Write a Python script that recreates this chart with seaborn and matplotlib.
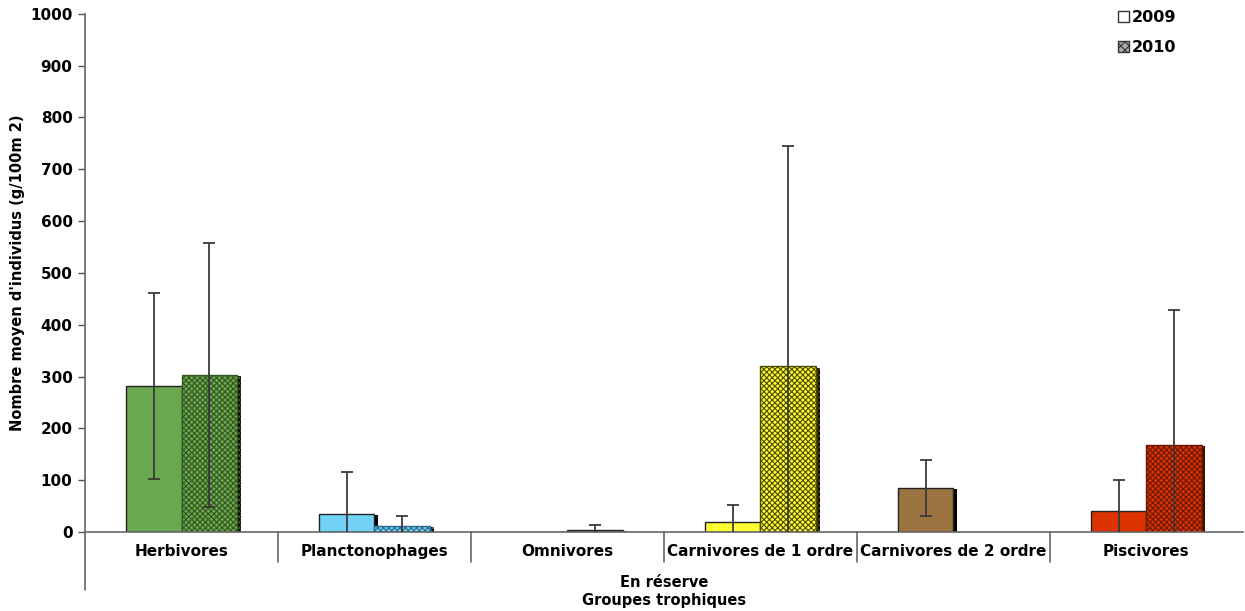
import matplotlib
matplotlib.use("Agg")
import matplotlib.pyplot as plt
import matplotlib.patheffects as pe
from matplotlib.patches import Patch
from matplotlib.lines import Line2D
import matplotlib.transforms as mtransforms
import numpy as np
import pandas as pd
import seaborn as sns

# Trophic groups and yearly means / standard deviations
categories = ["Herbivores", "Planctonophages", "Omnivores",
              "Carnivores de 1 ordre", "Carnivores de 2 ordre", "Piscivores"]
years = ["2009", "2010"]
mean_2009 = [282, 35, 0, 20, 85, 41]
mean_2010 = [303, 12, 4, 320, 0, 168]
sd_2009 = [180, 81, 0, 32, 54, 60]
sd_2010 = [255, 19, 9, 425, 0, 260]
group_colors = ["#6aa84f", "#72d2f8", "#ffffff", "#ffff33", "#9c7442", "#dd3300"]
dark_colors = ["#33561f", "#2a6a88", "#222222", "#4e4a00", "#4a3415", "#6a1800"]

df = pd.DataFrame({
    "groupe": categories * 2,
    "annee": [years[0]] * len(categories) + [years[1]] * len(categories),
    "valeur": mean_2009 + mean_2010,
})

sns.set_theme(style="white")
plt.rcParams["font.family"] = ["DejaVu Sans"]
plt.rcParams["hatch.linewidth"] = 0.8
plt.rcParams["text.color"] = "black"
plt.rcParams["axes.labelcolor"] = "black"
plt.rcParams["xtick.color"] = "black"
plt.rcParams["ytick.color"] = "black"

fig = plt.figure(figsize=(12.45, 6.11), dpi=100)
ax = fig.add_axes([0.0683, 0.1293, 0.930, 0.848])

sns.barplot(data=df, x="groupe", y="valeur", hue="annee", order=categories,
            hue_order=years, errorbar=None, width=0.575, dodge=True,
            palette=["#ffffff", "#ffffff"], edgecolor="#222222", linewidth=1.0,
            legend=False, ax=ax)

shadow = [pe.SimplePatchShadow(offset=(2.6, -1.0), shadow_rgbFace="black", alpha=1.0),
          pe.Normal()]

for yi, (cont, means, sds) in enumerate(zip(ax.containers, [mean_2009, mean_2010],
                                             [sd_2009, sd_2010])):
    for i, bar in enumerate(cont.patches):
        bar.set_facecolor(group_colors[i])
        if yi == 1:
            bar.set_hatch("xxxxxx")
            bar.set_edgecolor(dark_colors[i])
        bar.set_path_effects(shadow)
        xc = bar.get_x() + bar.get_width() / 2
        m, s = means[i], sds[i]
        if s > 0:
            lo = min(s, m)
            _, caps, _ = ax.errorbar(xc, m, yerr=[[lo], [s]], fmt="none",
                                     ecolor="#3a3a3a", elinewidth=1.3, capsize=4,
                                     capthick=1.3, zorder=5)
            if m - s <= 0:
                # the lower whisker is cut by the baseline: no cap there
                caps[0].set_visible(False)

ax.set_ylim(0, 1000)
ax.set_xlim(-0.5, len(categories) - 0.5)
ax.set_yticks(np.arange(0, 1001, 100))
ax.tick_params(axis="y", direction="out", length=5, width=1, color="#555555",
               labelsize=11, pad=4, left=True)
ax.tick_params(axis="x", length=0, labelsize=11, pad=9)
for lab in ax.get_yticklabels() + ax.get_xticklabels():
    lab.set_fontweight("bold")

for side in ["top", "right"]:
    ax.spines[side].set_visible(False)
for side in ["left", "bottom"]:
    ax.spines[side].set_color("#666666")
    ax.spines[side].set_linewidth(1.2)

# extension of the value axis and category separators below the baseline
trans = mtransforms.blended_transform_factory(ax.transData, ax.transAxes)
ax.add_line(Line2D([0, 0], [0, -0.112], transform=ax.transAxes, color="#666666",
                   lw=1.2, clip_on=False))
for xb in np.arange(0.5, len(categories) - 0.5, 1):
    ax.add_line(Line2D([xb, xb], [0, -0.058], transform=trans, color="#666666",
                       lw=1.2, clip_on=False))

ax.set_ylabel("Nombre moyen d'individus (g/100m 2)", fontsize=10.5,
              fontweight="bold", labelpad=4)
ax.set_xlabel("En réserve\nGroupes trophiques", fontsize=10.5, fontweight="bold",
              labelpad=11, linespacing=1.25)

handles = [Patch(facecolor="white", edgecolor="#333333", linewidth=1.0),
           Patch(facecolor="#aaaaaa", edgecolor="#333333", hatch="xxxx", linewidth=1.0)]
leg = ax.legend(handles, years, loc="upper right", bbox_to_anchor=(0.955, 1.035),
                frameon=False, handlelength=0.7, handleheight=0.7,
                handletextpad=0.2, labelspacing=0.95, prop={"weight": "bold", "size": 11.5})

fig.savefig("out.png", dpi=100)
